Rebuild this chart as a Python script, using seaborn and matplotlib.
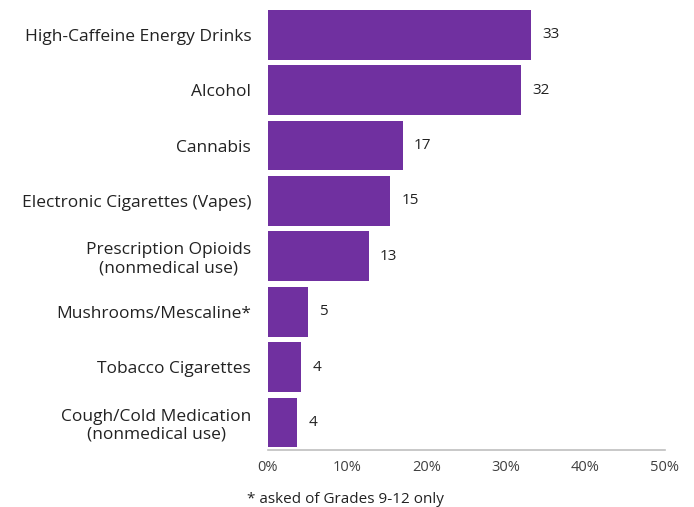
import pandas as pd
import seaborn as sb
import matplotlib.pyplot as plt
from matplotlib.ticker import FuncFormatter

substances = [
    'High-Caffeine Energy Drinks',
    'Alcohol',
    'Cannabis',
    'Electronic Cigarettes (Vapes)',
    'Prescription Opioids\n(nonmedical use)',
    'Mushrooms/Mescaline*',
    'Tobacco Cigarettes',
    'Cough/Cold Medication\n(nonmedical use)',
]
percent = [33.2, 31.9, 17.0, 15.4, 12.7, 5.0, 4.2, 3.7]
x_ticks = [0, 10, 20, 30, 40, 50]
footnote = '* asked of Grades 9-12 only'


def chart():
    df = pd.DataFrame({'substance': substances, 'percent': percent})

    sb.set_style('white')
    plt.rcParams['font.family'] = ['Open Sans', 'DejaVu Sans']

    fig = plt.figure(figsize=(6.94, 5.07), dpi=100)
    ax = fig.add_axes([0.386, 0.112, 0.572, 0.874])

    sb.barplot(data=df, x='percent', y='substance', orient='h',
               color='#7030A0', saturation=1, width=0.9, linewidth=0, ax=ax)

    # value labels
    for i, v in enumerate(percent):
        ax.annotate(f'{round(v)}', (v, i), xytext=(8, 0),
                    textcoords='offset points', va='center', ha='left',
                    fontsize=11, color='#222222')

    ax.set_xlim(0, 50)
    ax.set_xticks(x_ticks)
    ax.xaxis.set_major_formatter(FuncFormatter(lambda x, p: f'{x:.0f}%'))
    ax.set_xlabel('')
    ax.set_ylabel('')

    for s in ['top', 'right', 'left']:
        ax.spines[s].set_visible(False)
    ax.spines['bottom'].set_color('#bfbfbf')
    ax.spines['bottom'].set_linewidth(1.2)

    ax.tick_params(axis='x', direction='in', length=4, color='#bfbfbf',
                   labelsize=10.5, labelcolor='#404040', pad=7)
    ax.tick_params(axis='y', length=0, labelsize=12.5, labelcolor='#222222', pad=12)
    for lbl in ax.get_yticklabels():
        lbl.set_multialignment('center')

    fig.text(0.356, 0.008, footnote, fontsize=11, color='#222222')

    plt.savefig('out.png', dpi=100)


if __name__ == '__main__':
    chart()
